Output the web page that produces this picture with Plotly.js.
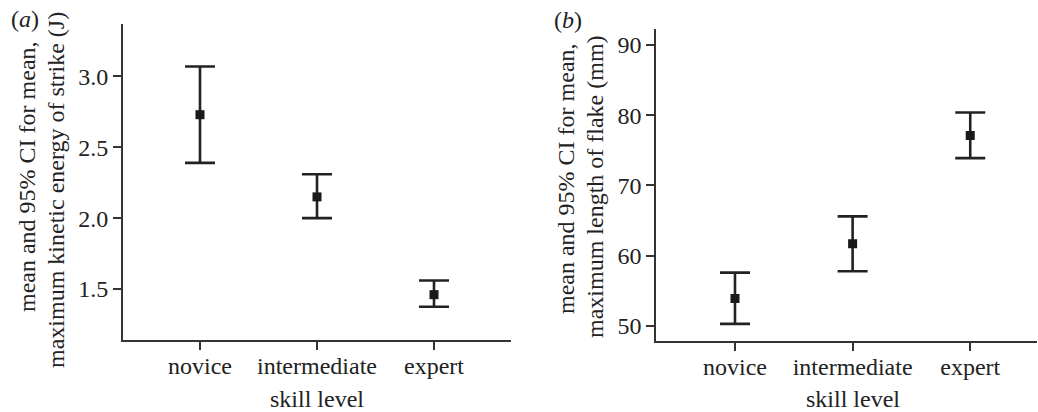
<!DOCTYPE html>
<html>
<head>
<meta charset="utf-8">
<script src="https://cdn.plot.ly/plotly-3.0.1.min.js"></script>
<style>
  html, body { margin: 0; padding: 0; background: #fff; }
  #chart { width: 1038px; height: 412px; }
</style>
</head>
<body>
<div id="chart"></div>
<script>
// Skill groups shared by both panels
const skillLevels = ['novice', 'intermediate', 'expert'];

// (a) maximum kinetic energy of strike (J): mean and 95% CI bounds
const energyMean  = [2.73, 2.15, 1.46];
const energyUpper = [3.07, 2.31, 1.56];
const energyLower = [2.39, 2.00, 1.375];

// (b) maximum length of flake (mm): mean and 95% CI bounds
const flakeMean  = [53.9, 61.7, 77.1];
const flakeUpper = [57.6, 65.6, 80.4];
const flakeLower = [50.3, 57.8, 73.9];

const energyTicks = [1.5, 2.0, 2.5, 3.0];
const flakeTicks  = [50, 60, 70, 80, 90];

const W = 1038, H = 412;
const px = x => x / W;          // pixel -> paper x
const py = y => 1 - y / H;      // pixel -> paper y

const ink = '#222222';
const FONT = 'Liberation Serif, Times New Roman, serif';
const FS = 24;

function ciTrace(means, upper, lower, xa, ya) {
  return {
    type: 'scatter',
    mode: 'markers',
    x: skillLevels,
    y: means,
    xaxis: xa,
    yaxis: ya,
    marker: { symbol: 'square', size: 9, color: '#1a1a1a' },
    error_y: {
      type: 'data',
      symmetric: false,
      array: upper.map((u, i) => u - means[i]),
      arrayminus: lower.map((l, i) => means[i] - l),
      color: ink,
      thickness: 2.6,
      width: 15
    },
    hoverinfo: 'x+y'
  };
}

const axisCommon = {
  showgrid: false,
  zeroline: false,
  showline: true,
  linecolor: '#333',
  linewidth: 2,
  ticks: 'outside',
  ticklen: 8,
  tickwidth: 2,
  tickcolor: '#333',
  tickfont: { family: FONT, size: FS, color: ink },
  fixedrange: true
};

function label(text, x, y, angle) {
  return {
    text: text, x: px(x), y: py(y), xref: 'paper', yref: 'paper',
    textangle: angle || 0, xanchor: 'center', yanchor: 'middle', showarrow: false,
    font: { family: FONT, size: FS, color: ink }
  };
}

const layout = {
  width: W,
  height: H,
  margin: { l: 0, r: 0, t: 0, b: 0 },
  paper_bgcolor: '#fff',
  plot_bgcolor: '#fff',
  showlegend: false,
  font: { family: FONT, color: ink },
  xaxis: Object.assign({}, axisCommon, {
    domain: [px(123), px(511)],
    type: 'category',
    range: [-0.658, 2.658],
    ticklabelstandoff: -5,
    anchor: 'y'
  }),
  yaxis: Object.assign({}, axisCommon, {
    domain: [py(340), py(24)],
    range: [1.14, 3.37],
    tickvals: energyTicks,
    ticktext: energyTicks.map(v => v.toFixed(1)),
    anchor: 'x'
  }),
  xaxis2: Object.assign({}, axisCommon, {
    domain: [px(656.3), px(1036.7)],
    type: 'category',
    range: [-0.669, 2.565],
    ticklabelstandoff: -5,
    anchor: 'y2'
  }),
  yaxis2: Object.assign({}, axisCommon, {
    domain: [py(341), py(29)],
    range: [47.86, 92.28],
    tickvals: flakeTicks,
    anchor: 'x2'
  }),
  annotations: [
    // panel letters
    label('(<i>a</i>)', 25, 19),
    label('(<i>b</i>)', 568, 20),
    // y titles, panel (a)
    label('mean and 95% CI for mean,', 27, 177, -90),
    label('maximum kinetic energy of strike (J)', 56, 190, -90),
    // y titles, panel (b)
    label('mean and 95% CI for mean,', 566, 179, -90),
    label('maximum length of flake (mm)', 595, 187, -90),
    // x titles
    label('skill level', 317, 399),
    label('skill level', 853, 399)
  ]
};

const data = [
  ciTrace(energyMean, energyUpper, energyLower, 'x', 'y'),
  ciTrace(flakeMean, flakeUpper, flakeLower, 'x2', 'y2')
];

Plotly.newPlot('chart', data, layout, { displayModeBar: false, staticPlot: true });
</script>
</body>
</html>
